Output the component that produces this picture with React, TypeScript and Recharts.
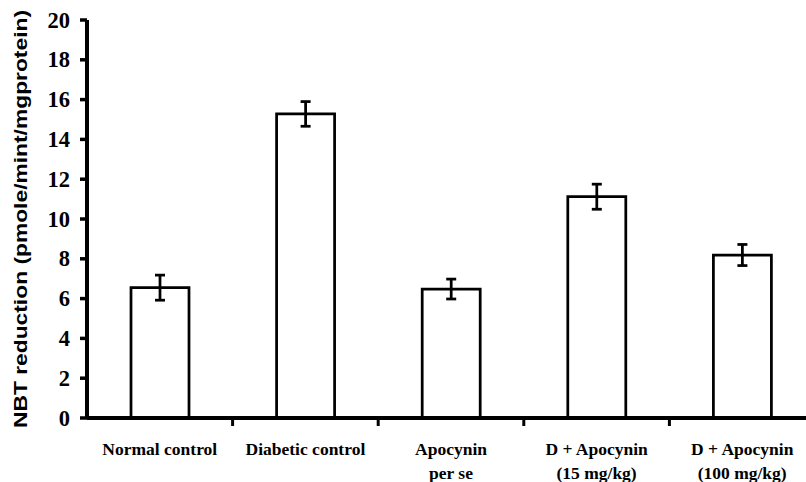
import { BarChart, Bar, XAxis, YAxis, ErrorBar } from "recharts";

// Values (mean ± SEM)
const categories = ["Normal control", "Diabetic control", "Apocynin per se", "D + Apocynin (15 mg/kg)", "D + Apocynin (100 mg/kg)"];
const labelLines = [
  ["Normal control"],
  ["Diabetic control"],
  ["Apocynin", "per se"],
  ["D + Apocynin", "(15 mg/kg)"],
  ["D + Apocynin", "(100 mg/kg)"],
];
const nbtValues = [6.55, 15.28, 6.48, 11.12, 8.19];
const nbtErrors = [0.63, 0.62, 0.5, 0.63, 0.53];
const yTicks = [0, 2, 4, 6, 8, 10, 12, 14, 16, 18, 20];

const data = categories.map((name, i) => ({ name, value: nbtValues[i], err: nbtErrors[i] }));

const serif = "'Liberation Serif', 'Times New Roman', serif";
const sans = "'Liberation Sans', Arial, sans-serif";

const YTick = ({ x, y, payload }: any) => (
  <text x={x} y={y} dy={7.5} textAnchor="end" fontFamily={serif} fontWeight="bold" fontSize={22.5} fill="#000">
    {payload.value}
  </text>
);

const XTick = (props: any) => {
  const { x, y, index, width } = props;
  const band = width / categories.length;
  const lines = labelLines[index] || [];
  return (
    <g>
      {index > 0 && (
        <line x1={x - band / 2} x2={x - band / 2} y1={y} y2={y + 6} stroke="#000" strokeWidth={3} />
      )}
      <text x={x} y={y + 35} textAnchor="middle" fontFamily={serif} fontWeight="bold" fontSize={17.5} fill="#000">
        {lines.map((l: string, i: number) => (
          <tspan key={i} x={x} dy={i === 0 ? 0 : 24}>
            {l}
          </tspan>
        ))}
      </text>
    </g>
  );
};

const YLabel = ({ viewBox }: any) => {
  const cx = viewBox.x + 27;
  const cy = viewBox.y + viewBox.height / 2;
  return (
    <text
      x={cx}
      y={cy}
      transform={`rotate(-90, ${cx}, ${cy})`}
      textAnchor="middle"
      fontFamily={sans}
      fontWeight="bold"
      fontSize={17.5}
      textLength={418}
      lengthAdjust="spacingAndGlyphs"
      fill="#000"
    >
      NBT reduction (pmole/mint/mgprotein)
    </text>
  );
};

export default function App() {
  return (
    <div style={{ position: "absolute", left: 0, top: 0, width: 806, height: 482, overflow: "hidden", background: "#fff" }}>
      <BarChart width={830} height={482} data={data} margin={{ top: 20, right: 15, bottom: 0, left: 0 }}>
        <XAxis
          dataKey="name"
          height={64}
          interval={0}
          tickSize={0}
          tickLine={false}
          axisLine={{ stroke: "#000", strokeWidth: 4 }}
          tick={<XTick />}
        />
        <YAxis
          width={87}
          domain={[0, 20]}
          ticks={yTicks}
          interval={0}
          tickSize={7}
          tickMargin={10}
          axisLine={{ stroke: "#000", strokeWidth: 4 }}
          tickLine={{ stroke: "#000", strokeWidth: 3.5 }}
          tick={<YTick />}
          label={<YLabel />}
        />
        <Bar dataKey="value" barSize={58} fill="#fff" stroke="#000" strokeWidth={2.75} isAnimationActive={false}>
          <ErrorBar dataKey="err" width={5} stroke="#000" strokeWidth={2.75} direction="y" isAnimationActive={false} />
        </Bar>
      </BarChart>
    </div>
  );
}
